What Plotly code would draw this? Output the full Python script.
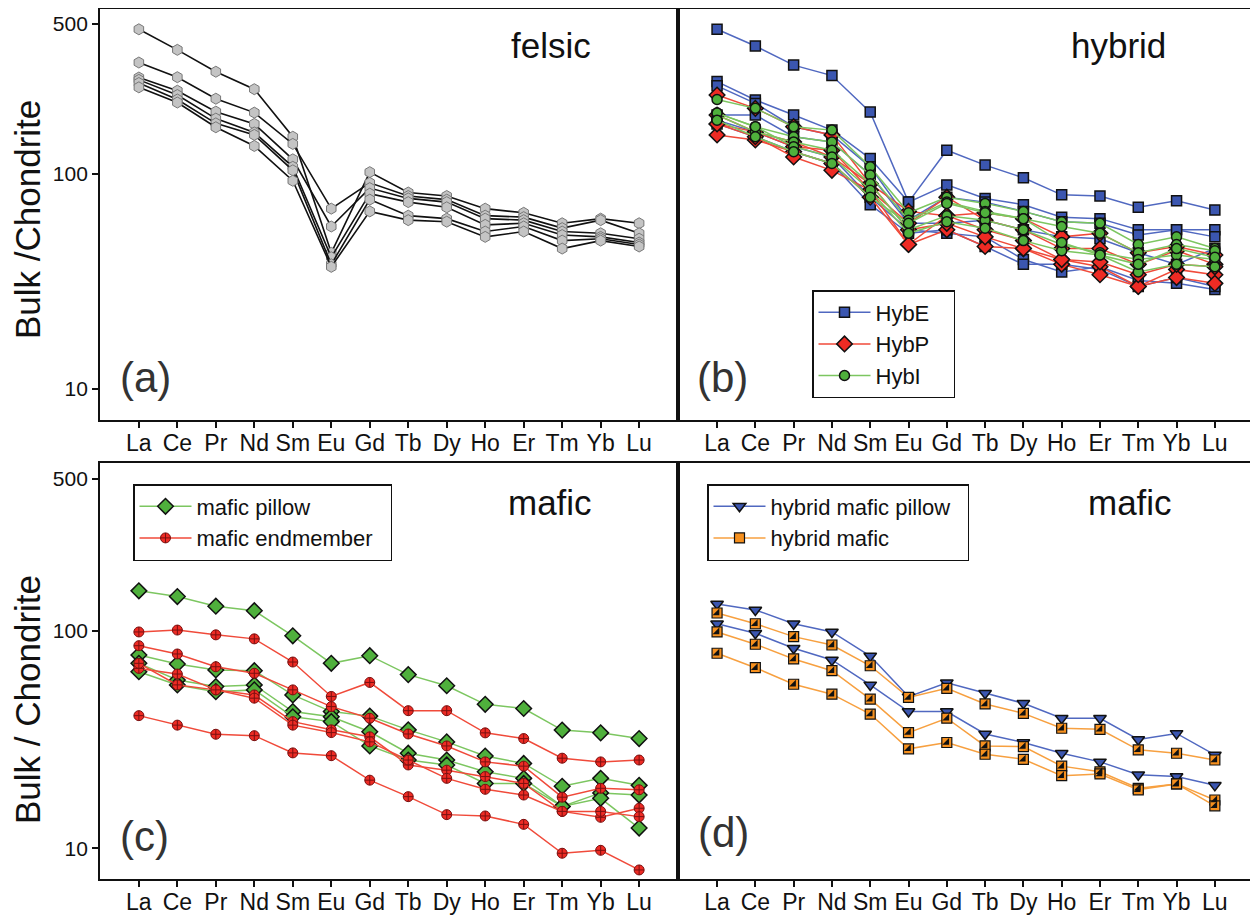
import math
import plotly.graph_objects as go

elements = ["La", "Ce", "Pr", "Nd", "Sm", "Eu", "Gd", "Tb", "Dy", "Ho", "Er", "Tm", "Yb", "Lu"]

# (a) felsic
felsic = [
    [471, 378, 299, 248, 149, 43, 102, 82, 79, 69, 66, 59, 62, 59],
    [330, 282, 224, 193, 138, 69, 91, 79, 76, 64, 63, 56, 61, 53],
    [281, 244, 195, 171, 117, 57, 86, 77, 74, 62, 61, 54, 53, 50],
    [274, 233, 181, 156, 108, 41, 81, 74, 70, 58, 59, 52, 51, 48],
    [265, 222, 172, 152, 104, 38, 76, 64, 62, 54, 57, 49, 50, 47],
    [253, 215, 165, 135, 93, 37, 67, 61, 60, 51, 54, 45, 49, 46],
]

# (b) hybrid
hybE = [
    [471, 394, 321, 287, 194, 74, 129, 110, 96, 80, 79, 70, 75, 68],
    [269, 221, 188, 160, 118, 74, 89, 77, 72, 63, 62, 55, 55, 55],
    [257, 213, 166, 152, 108, 61, 78, 74, 67, 60, 59, 52, 55, 51],
    [188, 188, 149, 141, 99, 59, 59, 61, 55, 51, 50, 43, 38, 45],
    [178, 157, 134, 120, 78, 55, 53, 51, 40, 35, 37, 32, 31, 29],
    [171, 149, 127, 112, 72, 53, 55, 46, 38, 38, 36, 30, 33, 30],
]
hybP = [
    [233, 202, 166, 152, 90, 67, 64, 66, 62, 51, 53, 43, 46, 42],
    [171, 157, 134, 129, 84, 59, 78, 61, 55, 45, 45, 38, 44, 38],
    [152, 144, 127, 112, 78, 47, 64, 55, 49, 40, 37, 30, 36, 34],
    [171, 149, 120, 104, 84, 47, 55, 46, 45, 38, 34, 30, 33, 31],
    [188, 157, 141, 120, 90, 55, 59, 51, 45, 40, 39, 34, 38, 37],
]
hybI = [
    [222, 202, 166, 160, 108, 66, 78, 73, 67, 60, 59, 47, 51, 45],
    [192, 166, 149, 141, 99, 61, 74, 67, 62, 57, 53, 43, 47, 44],
    [188, 157, 141, 129, 90, 55, 64, 61, 55, 47, 43, 40, 42, 40],
    [192, 166, 134, 120, 84, 53, 60, 56, 49, 44, 42, 35, 38, 37],
    [178, 149, 127, 112, 78, 59, 73, 66, 62, 48, 42, 38, 45, 41],
]

# (c) mafic
mafic_pillow = [
    [153, 144, 130, 124, 95, 71, 77, 63, 56, 46, 44, 35, 34, 32],
    [77.5, 70.5, 66.2, 65.7, 50.8, 42.6, 40.6, 35.1, 30.9, 26.6, 24.6, 19.3, 21.0, 19.5],
    [71, 59.5, 55.5, 56.5, 42.6, 40.3, 34.4, 27.4, 25.5, 22.5, 21.0, 15.6, 18.0, 17.6],
    [65, 56.5, 52.6, 53.6, 40.3, 38.3, 29.6, 25.5, 24.2, 19.9, 19.9, 15.6, 17.0, 12.4],
]
mafic_end = [
    [99, 101, 96, 92, 72, 50, 58, 43, 43, 34, 32, 26, 25, 25.5],
    [85.6, 78.4, 68.5, 63.9, 53.6, 44.9, 39.7, 33.6, 29.6, 25.0, 23.9, 17.2, 18.9, 18.6],
    [67.3, 63.4, 53.6, 50.8, 38.3, 35.1, 32.6, 24.2, 22.9, 21.4, 19.9, 14.8, 13.9, 15.3],
    [71, 56.5, 53.6, 49.1, 36.9, 34.1, 30.9, 25.5, 21.0, 18.7, 17.6, 14.8, 14.8, 14.0],
    [40.8, 36.9, 33.5, 33.0, 27.5, 26.7, 20.6, 17.3, 14.3, 14.1, 12.9, 9.5, 9.8, 7.96],
]

# (d) hybrid mafic
hyb_mafic_pillow = [
    [133, 125, 108, 99, 76.7, 49.9, 57.8, 51.7, 46.5, 39.7, 39.7, 31.7, 33.8, 26.9],
    [108, 97.6, 83.3, 73.6, 56.5, 42.6, 42.6, 33.6, 30.7, 27.4, 25.0, 21.8, 21.4, 19.5],
]
hyb_mafic = [
    [121, 108, 94.2, 86.2, 69.2, 49.5, 54.5, 46.2, 41.8, 35.7, 35.3, 28.4, 27.4, 25.5],
    [99, 86.9, 74.4, 65.7, 48.6, 34.1, 39.7, 29.6, 29.4, 23.9, 22.5, 18.9, 19.8, 16.7],
    [79, 67.8, 56.9, 51.2, 41.5, 28.7, 30.7, 27.1, 25.7, 21.6, 22.0, 18.6, 19.8, 15.7],
]

# page has an 8px body margin: figure is placed at (8, 8) in the 1258x916 window
OFF = 8
W, H = 1258 - OFF, 916 - OFF


def px(X):
    return min(1.0, max(0.0, (X - OFF) / W))


def py(Y):
    return min(1.0, max(0.0, 1 - (Y - OFF) / H))


FONT = "Liberation Sans, Arial, sans-serif"

BLUE = "#3b56b0"
BLUE_L = "#5068c0"
RED = "#ee2b24"
RED_L = "#f04a3a"
GREEN = "#4fb03c"
GREEN_L = "#7cc660"
ORANGE = "#f6901e"
ORANGE_L = "#f7a040"
NB = "\u00a0"

fig = go.Figure()


def add_group(data, xa, ya, name, line_color, lw, marker, legend=None):
    for i, vals in enumerate(data):
        fig.add_trace(go.Scatter(
            x=elements, y=vals, mode="lines+markers",
            xaxis=xa, yaxis=ya, name=name,
            line=dict(color=line_color, width=lw),
            marker=marker,
            showlegend=(legend is not None and i == 0),
            legend=legend if legend else "legend",
        ))


# (a)
add_group(felsic, "x", "y", "felsic", "#111111", 1.6,
          dict(symbol="hexagon", size=11, color="#c4c4c4", line=dict(color="#777777", width=1)))

# (b)
add_group(hybE, "x2", "y2", "HybE" + NB * 3, BLUE_L, 1.5,
          dict(symbol="square", size=10, color=BLUE, line=dict(color="#111111", width=1.5)), "legend")
add_group(hybP, "x2", "y2", "HybP", RED_L, 1.5,
          dict(symbol="diamond", size=12, color=RED, line=dict(color="#111111", width=1.5)), "legend")
add_group(hybI, "x2", "y2", "HybI", GREEN_L, 1.5,
          dict(symbol="circle", size=10, color=GREEN, line=dict(color="#111111", width=1.5)), "legend")

# (c)
add_group(mafic_pillow, "x3", "y3", "mafic pillow", GREEN_L, 1.5,
          dict(symbol="diamond", size=12, color=GREEN, line=dict(color="#111111", width=1.5)), "legend2")
add_group(mafic_end, "x3", "y3", "mafic endmember" + NB * 2, RED_L, 1.5,
          dict(symbol="circle-cross", size=10, color=RED, line=dict(color="#7a1010", width=1)), "legend2")

# (d)
add_group(hyb_mafic_pillow, "x4", "y4", "hybrid mafic pillow" + NB * 2, BLUE_L, 1.5,
          dict(symbol="triangle-down", size=11, color=BLUE, line=dict(color="#111111", width=1.5)), "legend3")
add_group(hyb_mafic, "x4", "y4", "hybrid mafic", ORANGE_L, 1.5,
          dict(symbol="square", size=10, color=ORANGE, line=dict(color="#111111", width=1.2)), "legend3")
for vals in hyb_mafic:
    fig.add_trace(go.Scatter(
        x=elements, y=vals, mode="markers", xaxis="x4", yaxis="y4",
        marker=dict(symbol="triangle-se", size=7.5, color="#111111", line=dict(width=0)),
        showlegend=False, hoverinfo="skip"))

# axes (top panel: 100 at y=174, 215 px/decade; bottom: 100 at y=631, 217.4 px/decade)
top_dom = [py(420), py(9)]
bot_dom = [py(879), py(463)]
left_dom = [px(100), px(678)]
right_dom = [px(678), px(1252)]
top_rng = [2 - (420 - 174) / 215, 2 + (174 - 9) / 215]
bot_rng = [2 - (879 - 631) / 217.4, 2 + (631 - 463) / 217.4]

common_x = dict(showline=True, mirror=True, linecolor="#111111", linewidth=1.8,
                ticks="outside", ticklen=6, tickwidth=1.5, tickcolor="#111111",
                showgrid=False, zeroline=False, type="category",
                categoryorder="array", categoryarray=elements,
                ticklabelstandoff=-5,
                tickfont=dict(family=FONT, size=23, color="#111111"))
common_y = dict(showline=True, mirror=True, linecolor="#111111", linewidth=1.8,
                showgrid=False, zeroline=False, type="log",
                tickvals=[10, 100, 500], ticktext=["10", "100", "500"],
                tickfont=dict(family=FONT, size=21, color="#111111"))

legend_style = dict(xanchor="left", yanchor="top",
                    bordercolor="#111111", borderwidth=1.5, bgcolor="white",
                    font=dict(family=FONT, size=22, color="#111111"), itemwidth=52,
                    tracegroupgap=0)

fig.update_layout(
    width=W, height=H, margin=dict(l=0, r=0, t=0, b=0),
    paper_bgcolor="white", plot_bgcolor="white",
    xaxis=dict(domain=left_dom, anchor="y", range=[-1.01, 14.01], **common_x),
    xaxis2=dict(domain=right_dom, anchor="y2", range=[-1.02, 13.97], **common_x),
    xaxis3=dict(domain=left_dom, anchor="y3", range=[-1.01, 14.01], **common_x),
    xaxis4=dict(domain=right_dom, anchor="y4", range=[-1.02, 13.97], **common_x),
    yaxis=dict(domain=top_dom, anchor="x", range=top_rng, ticks="outside", ticklen=6,
               tickwidth=1.5, tickcolor="#111111", **common_y),
    yaxis2=dict(domain=top_dom, anchor="x2", range=top_rng, ticks="", showticklabels=False, **common_y),
    yaxis3=dict(domain=bot_dom, anchor="x3", range=bot_rng, ticks="outside", ticklen=6,
                tickwidth=1.5, tickcolor="#111111", **common_y),
    yaxis4=dict(domain=bot_dom, anchor="x4", range=bot_rng, ticks="", showticklabels=False, **common_y),
    legend=dict(x=px(812), y=py(290), **legend_style),
    legend2=dict(x=px(133), y=py(484), **legend_style),
    legend3=dict(x=px(707), y=py(484), **legend_style),
)

ann = []


def label(text, x, y, size, xanchor="left", color="#111111", angle=0):
    ann.append(dict(text=text, x=px(x), y=py(y), xref="paper", yref="paper",
                    xanchor=xanchor, yanchor="middle", showarrow=False, textangle=angle,
                    font=dict(family=FONT, size=size, color=color)))


label("felsic", 593, 45, 35, "right")
label("hybrid", 1168, 45, 35, "right")
label("mafic", 594, 503, 35, "right")
label("mafic", 1174, 503, 35, "right")
label("(a)", 118, 378, 42, "left", "#333333")
label("(b)", 695, 378, 42, "left", "#333333")
label("(c)", 118, 836, 42, "left", "#333333")
label("(d)", 696, 832, 42, "left", "#333333")
label("Bulk /Chondrite", 27, 220, 35, "center", "#111111", -90)
label("Bulk / Chondrite", 27, 700, 35, "center", "#111111", -90)
fig.update_layout(annotations=ann)

fig.write_html("out.html")
